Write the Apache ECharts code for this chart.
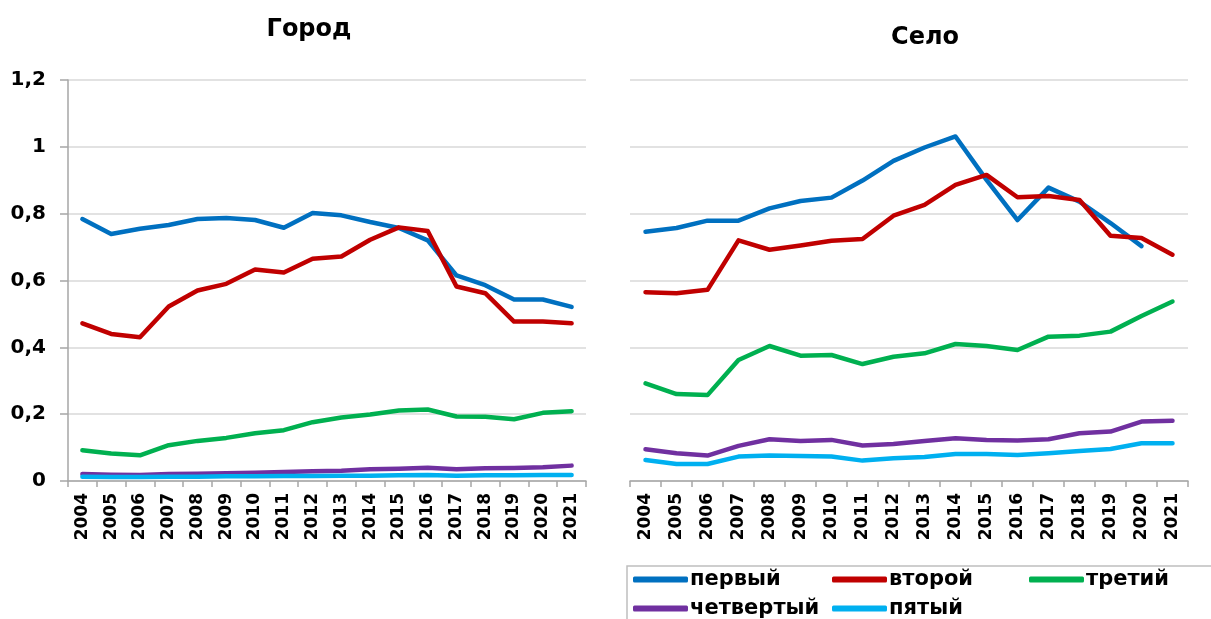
<!DOCTYPE html>
<html>
<head>
<meta charset="utf-8">
<script src="https://cdn.jsdelivr.net/npm/echarts@6/dist/echarts.min.js"></script>
<style>
    html, body { margin: 0; padding: 0; background: #fff; }
    #main { width: 1211px; height: 619px; }
</style>
</head>
<body>
<div id="main"></div>
<script>
var yearAry = ['2004', '2005', '2006', '2007', '2008', '2009', '2010', '2011', '2012',
    '2013', '2014', '2015', '2016', '2017', '2018', '2019', '2020', '2021'];
var nameAry = ['первый', 'второй', 'третий', 'четвертый', 'пятый'];
var colorAry = ['#0070C0', '#C00000', '#00B050', '#7030A0', '#00B0F0'];
var yTickAry = [0, 0.2, 0.4, 0.6, 0.8, 1, 1.2];

// Город
var city1 = [0.784, 0.739, 0.755, 0.766, 0.784, 0.787, 0.781, 0.758, 0.802, 0.795, 0.775, 0.757, 0.720, 0.615, 0.586, 0.543, 0.543, 0.521];
var city2 = [0.472, 0.440, 0.430, 0.522, 0.570, 0.590, 0.633, 0.624, 0.665, 0.672, 0.722, 0.759, 0.748, 0.582, 0.562, 0.477, 0.477, 0.472];
var city3 = [0.092, 0.082, 0.077, 0.107, 0.120, 0.129, 0.143, 0.152, 0.176, 0.190, 0.199, 0.211, 0.214, 0.193, 0.192, 0.185, 0.204, 0.209];
var city4 = [0.021, 0.019, 0.018, 0.021, 0.022, 0.023, 0.025, 0.027, 0.029, 0.031, 0.035, 0.037, 0.040, 0.035, 0.038, 0.039, 0.041, 0.046];
var city5 = [0.013, 0.012, 0.012, 0.013, 0.013, 0.014, 0.014, 0.015, 0.015, 0.016, 0.016, 0.017, 0.018, 0.016, 0.017, 0.017, 0.018, 0.018];

// Село
var village1 = [0.746, 0.757, 0.779, 0.779, 0.816, 0.838, 0.848, 0.899, 0.958, 0.998, 1.031, 0.901, 0.781, 0.878, 0.836, 0.772, 0.703, null];
var village2 = [0.565, 0.562, 0.572, 0.720, 0.692, 0.705, 0.719, 0.724, 0.794, 0.826, 0.886, 0.916, 0.849, 0.853, 0.841, 0.734, 0.727, 0.677];
var village3 = [0.292, 0.260, 0.257, 0.362, 0.404, 0.375, 0.377, 0.350, 0.372, 0.382, 0.410, 0.404, 0.392, 0.432, 0.435, 0.447, 0.494, 0.537];
var village4 = [0.095, 0.083, 0.076, 0.105, 0.125, 0.120, 0.123, 0.106, 0.111, 0.120, 0.128, 0.123, 0.121, 0.125, 0.143, 0.148, 0.178, 0.180];
var village5 = [0.063, 0.051, 0.051, 0.073, 0.076, 0.075, 0.073, 0.061, 0.068, 0.072, 0.081, 0.081, 0.078, 0.083, 0.090, 0.096, 0.113, 0.113];

var FONT = '"DejaVu Sans", "Noto Sans", sans-serif';

function lineSeries(name, idx, axisIdx, dataAry) {
    return {
        name: name,
        type: 'line',
        xAxisIndex: axisIdx,
        yAxisIndex: axisIdx,
        data: dataAry,
        showSymbol: false,
        connectNulls: false,
        lineStyle: { color: colorAry[idx], width: 4.5, cap: 'round', join: 'round' },
        itemStyle: { color: colorAry[idx] }
    };
}

function xAxisCfg(gridIdx) {
    return {
        type: 'category',
        gridIndex: gridIdx,
        data: yearAry,
        boundaryGap: true,
        axisLine: { lineStyle: { color: '#a6a6a6', width: 1.5 } },
        axisTick: { show: true, length: 6, lineStyle: { color: '#a6a6a6', width: 1.5 } },
        axisLabel: {
            rotate: 90,
            margin: 12,
            color: '#000',
            fontSize: 17,
            fontWeight: 'bold',
            fontFamily: FONT
        }
    };
}

function yAxisCfg(gridIdx, showLabels) {
    return {
        type: 'value',
        gridIndex: gridIdx,
        min: yTickAry[0],
        max: yTickAry[yTickAry.length - 1],
        interval: 0.2,
        axisLine: { show: showLabels, lineStyle: { color: '#a6a6a6', width: 1.5 } },
        axisTick: { show: showLabels, length: 8, lineStyle: { color: '#a6a6a6', width: 1.5 } },
        splitLine: { show: true, lineStyle: { color: '#d9d9d9', width: 1.5 } },
        axisLabel: {
            show: showLabels,
            margin: 22,
            color: '#000',
            fontSize: 20,
            fontWeight: 'bold',
            fontFamily: FONT,
            formatter: function (v) {
                return (Math.round(v * 10) / 10).toString().replace('.', ',');
            }
        }
    };
}

// легенда: каждая колонка отдельным компонентом
function legendCfg(left, dataAry) {
    return {
        show: true,
        orient: 'vertical',
        left: left,
        top: 569,
        padding: 0,
        itemWidth: 55,
        itemHeight: 6,
        itemGap: 8,
        icon: 'roundRect',
        data: dataAry,
        selectedMode: false,
        textStyle: {
            color: '#000',
            fontSize: 21,
            fontWeight: 'bold',
            fontFamily: FONT,
            padding: [0, 0, 0, -3]
        }
    };
}

var chartDom = document.getElementById('main');
var myChart = echarts.init(chartDom, null, { renderer: 'canvas' });

var citySeries = [city1, city2, city3, city4, city5];
var villageSeries = [village1, village2, village3, village4, village5];
var seriesAry = [];
for (var i = 0; i < nameAry.length; i++) {
    seriesAry.push(lineSeries(nameAry[i], i, 0, citySeries[i]));
}
for (var j = 0; j < nameAry.length; j++) {
    seriesAry.push(lineSeries(nameAry[j], j, 1, villageSeries[j]));
}

var option = {
    backgroundColor: '#fff',
    animation: false,
    grid: [
        { left: 68, top: 80, width: 518, height: 401 },
        { left: 630, top: 80, width: 558, height: 401 }
    ],
    xAxis: [xAxisCfg(0), xAxisCfg(1)],
    yAxis: [yAxisCfg(0, true), yAxisCfg(1, false)],
    legend: [
        legendCfg(633, [nameAry[0], nameAry[3]]),
        legendCfg(832, [nameAry[1], nameAry[4]]),
        legendCfg(1029, [nameAry[2]])
    ],
    graphic: [
        {
            type: 'text',
            x: 309, y: 30,
            style: { text: 'Город', fill: '#000', font: 'bold 24px ' + FONT, textAlign: 'center', textVerticalAlign: 'middle' }
        },
        {
            type: 'text',
            x: 925, y: 38,
            style: { text: 'Село', fill: '#000', font: 'bold 24px ' + FONT, textAlign: 'center', textVerticalAlign: 'middle' }
        },
        // рамка легенды
        {
            type: 'rect',
            shape: { x: 627, y: 566, width: 640, height: 80 },
            style: { fill: 'none', stroke: '#bfbfbf', lineWidth: 1.5 },
            silent: true
        }
    ],
    series: seriesAry
};

myChart.setOption(option);
</script>
</body>
</html>
